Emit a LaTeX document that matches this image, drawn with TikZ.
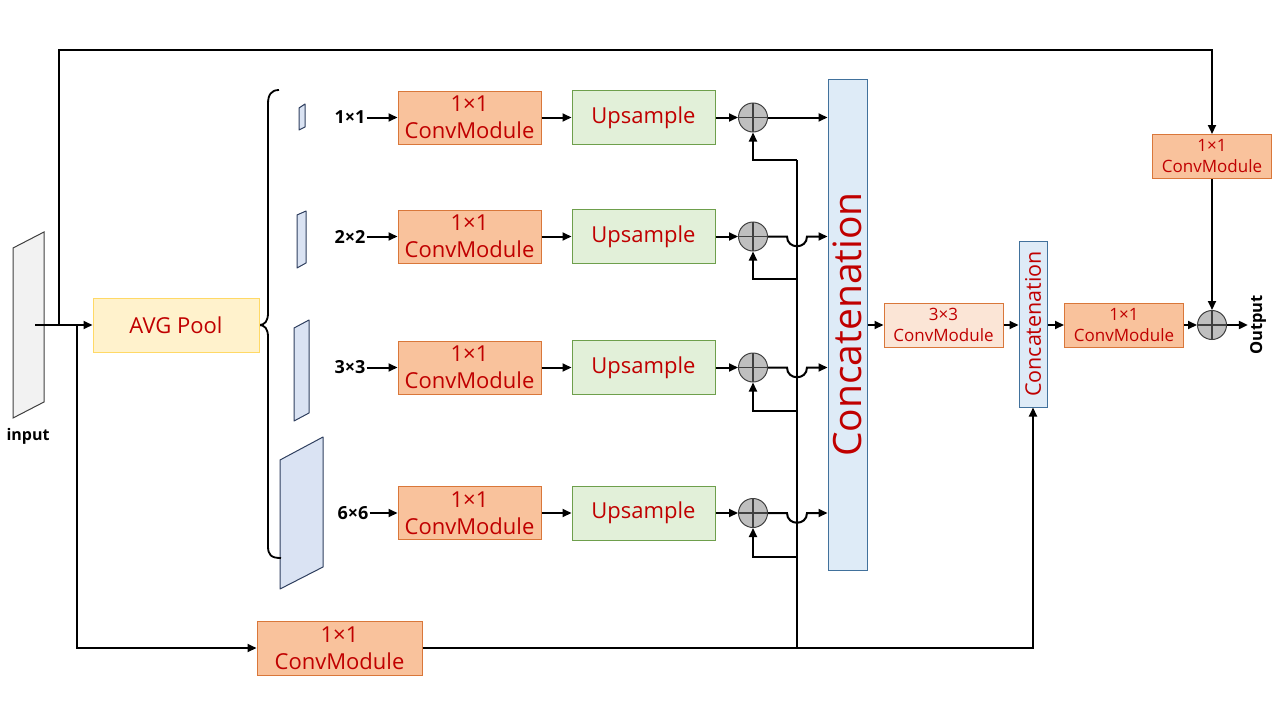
\documentclass[tikz,border=0pt]{standalone}
\usepackage{fontspec}
\setmainfont{Open Sans}
\usetikzlibrary{arrows.meta,calc}
\definecolor{txtred}{HTML}{C00000}
\definecolor{convf}{HTML}{F9C29C}
\definecolor{convb}{HTML}{D9773A}
\definecolor{conv3f}{HTML}{FBE5D6}
\definecolor{upf}{HTML}{E2F0D9}
\definecolor{upb}{HTML}{6E9F4C}
\definecolor{avgf}{HTML}{FFF2CC}
\definecolor{avgb}{HTML}{FFD966}
\definecolor{catf}{HTML}{DEEBF7}
\definecolor{catb}{HTML}{41719C}
\definecolor{fmf}{HTML}{DAE3F3}
\definecolor{fmb}{HTML}{2F3F5F}
\definecolor{inf}{HTML}{F2F2F2}
\definecolor{plusf}{HTML}{BFBFBF}
\definecolor{plusb}{HTML}{404040}
\tikzset{
  boxbase/.style={draw, line width=1pt, align=center, text=txtred, inner sep=0pt},
  conv/.style={boxbase, draw=convb, fill=convf, minimum width=143pt, minimum height=53pt, font=\fontsize{22}{27}\selectfont},
  convsm/.style={boxbase, draw=convb, fill=convf, minimum width=119pt, minimum height=44pt, font=\fontsize{17}{21}\selectfont},
  ups/.style={boxbase, draw=upb, fill=upf, minimum width=143pt, minimum height=54pt, font=\fontsize{22}{27}\selectfont},
  catbox/.style={boxbase, draw=catb, fill=catf},
  plus/.style={circle, draw=plusb, fill=plusf, line width=1pt, minimum size=29pt, inner sep=0pt,
    path picture={\draw[plusb, line width=1.2pt] (path picture bounding box.north) -- (path picture bounding box.south)
      (path picture bounding box.west) -- (path picture bounding box.east);}},
  lbl/.style={font=\bfseries\fontsize{18}{20}\selectfont, inner sep=1pt},
  ln/.style={line width=2pt},
  arr/.style={line width=2pt, -{Triangle[length=9pt,width=8pt]}},
  fmap/.style={draw=fmb, fill=fmf, line width=1pt, line join=round},
}
\begin{document}
\begin{tikzpicture}[x=1pt,y=-1pt]
\useasboundingbox (0,0) rectangle (1280,720);

% input feature map
\draw[draw=plusb, fill=inf, line width=1pt] (13,248) -- (44,232) -- (44,402) -- (13,418) -- cycle;
\node[lbl, font=\bfseries\fontsize{16}{18}\selectfont] (inl) at (28,436) {input};

% pooled maps
\draw[fmap] (299,108) -- (305,104) -- (305,127) -- (299,130) -- cycle;
\draw[fmap] (297,215) -- (306,211) -- (306,263) -- (297,268) -- cycle;
\draw[fmap] (294,328) -- (309,320) -- (309,413) -- (294,421) -- cycle;
\draw[fmap] (280,460) -- (323,437) -- (323,567) -- (280,589) -- cycle;

% brace
\draw[ln, line width=1.8pt] (279,90) .. controls (271,90) and (268,95) .. (268,104) -- (268,313)
  .. controls (268,321) and (265,325) .. (259,325)
  .. controls (265,325) and (268,329) .. (268,337) -- (268,546)
  .. controls (268,555) and (271,558) .. (281,558);

% AVG pool
\node[boxbase, draw=avgb, fill=avgf, minimum width=166pt, minimum height=54pt, font=\fontsize{22}{27}\selectfont] (avg) at (176,325) {AVG Pool};

% rows
\foreach \i/\y/\s/\lx in {1/117.5/1×1/350, 2/236.5/2×2/350, 3/367.5/3×3/350, 4/513/6×6/353}{
  \node[lbl] (l\i) at (\lx,\y) {\s};
  \node[conv] (cv\i) at (469.5,\y) {1×1\\ConvModule};
  \node[ups] (up\i) at (643.5,\y) {Upsample};
  \node[plus] (p\i) at (753,\y) {};
  \draw[arr] (l\i.east) -- (cv\i.west);
  \draw[arr] (cv\i.east) -- (up\i.west);
  \draw[arr] (up\i.east) -- (p\i.west);
}

% big concatenation
\node[catbox, minimum width=39pt, minimum height=491pt] (cat) at (847.5,324.5) {};
\node[text=txtred, rotate=90, font=\fontsize{39}{40}\selectfont, inner sep=0pt] (catt) at (cat.center) {Concatenation};

% circle -> concat
\coordinate (vtop) at (797,160);
\coordinate (jb) at (797,648);
\draw[arr] (p1.east) -- (p1.east -| cat.west);
\foreach \i in {2,3,4}{
  \draw[arr] (p\i.east) -- ([xshift=-10pt]p\i.east -| vtop) .. controls +(0,13) and +(0,13) .. +(20,0) -- (p\i.east -| cat.west);
}
% feedback vertical
\draw[ln] (vtop) -- (jb);
\draw[arr] (vtop) -| (p1.south);
\coordinate (f2) at (797,279);
\coordinate (f3) at (797,411);
\coordinate (f4) at (797,557);
\foreach \i in {2,3,4}{ \draw[arr] (f\i) -| (p\i.south); }

% right part
\node[convsm, fill=conv3f] (c33) at (943.5,325) {3×3\\ConvModule};
\node[catbox, minimum width=28pt, minimum height=166pt] (ic) at (1033,324) {};
\node[text=txtred, rotate=90, font=\fontsize{21.5}{22}\selectfont, inner sep=0pt] (ict) at (ic.center) {Concatenation};
\node[convsm] (c11) at (1124,325) {1×1\\ConvModule};
\node[plus] (pout) at (1212,325) {};
\node[font=\bfseries\fontsize{16.5}{18}\selectfont, rotate=90, inner sep=2pt] (outl) at (1258,325) {Output};
\node[convsm] (tcv) at (1212,156.5) {1×1\\ConvModule};

\draw[arr] (cat.east |- c33.west) -- (c33.west);
\draw[arr] (c33.east) -- (ic.west |- c33.east);
\draw[arr] (ic.east |- c11.west) -- (c11.west);
\draw[arr] (c11.east) -- (pout.west);
\draw[arr] (pout.east) -- (outl.north);
\draw[arr] (tcv.south) -- (pout.north);

% bottom conv
\node[conv, minimum width=165pt, minimum height=54pt] (bcv) at (339.5,648) {1×1\\ConvModule};

% input connections
\coordinate (inp) at (35,325);
\coordinate (s1) at (59,325);
\coordinate (s2) at (77,325);
\coordinate (topc) at (59,50);
\draw[arr] (inp) -- (avg.west);
\draw[arr] (s1) -- (topc) -| (tcv.north);
\draw[arr] (s2) |- (bcv.west);
\draw[arr] (bcv.east) -| (ic.south);
\end{tikzpicture}
\end{document}
